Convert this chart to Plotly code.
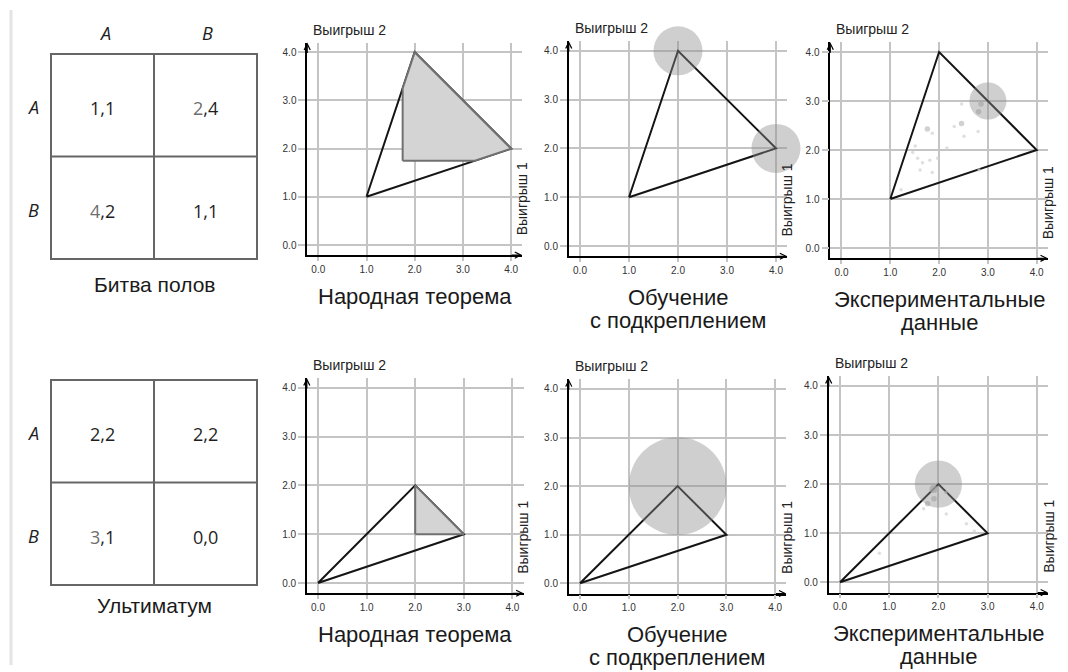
import plotly.graph_objects as go

W, H = 1068, 672

# ---------------- data ----------------
GAME_NAMES = ["Битва полов", "Ультиматум"]
STRATEGIES = ["A", "B"]
PAYOFFS_BOS = [["1,1", "2,4"], ["4,2", "1,1"]]
PAYOFFS_ULT = [["2,2", "2,2"], ["3,1", "0,0"]]

PANEL_TITLES = [["Народная теорема"], ["Обучение", "с подкреплением"], ["Экспериментальные", "данные"]]
AXIS_X_LABEL = "Выигрыш 1"
AXIS_Y_LABEL = "Выигрыш 2"
TICK_VALUES = [0, 1, 2, 3, 4]
TICK_TEXT = ["0.0", "1.0", "2.0", "3.0", "4.0"]

BOS_HULL_X = [1, 2, 4, 1]
BOS_HULL_Y = [1, 4, 2, 1]
BOS_FOLK_X = [1.75, 1.75, 2, 4, 3.25, 1.75]
BOS_FOLK_Y = [1.75, 3.25, 4, 2, 1.75, 1.75]

ULT_HULL_X = [0, 2, 3, 0]
ULT_HULL_Y = [0, 2, 1, 0]
ULT_FOLK_X = [2, 2, 3, 2]
ULT_FOLK_Y = [1, 2, 1, 1]

BOS_RL_X = [2, 4]
BOS_RL_Y = [4, 2]
BOS_RL_R = [0.5, 0.5]
ULT_RL_X = [2]
ULT_RL_Y = [2]
ULT_RL_R = [1.0]

BOS_EXP_CX = [3.0]
BOS_EXP_CY = [3.0]
BOS_EXP_R = [0.38]
BOS_EXP_X = [2.46, 2.86, 2.81, 1.76, 1.86, 2.46, 2.31, 2.51, 2.80, 2.16, 1.51, 1.46, 1.56, 1.66, 1.81, 1.97, 1.61, 1.86, 1.22, 2.82]
BOS_EXP_Y = [2.94, 2.94, 2.78, 2.43, 2.34, 2.54, 2.48, 2.28, 2.38, 2.04, 2.08, 1.95, 1.83, 1.74, 1.79, 1.83, 1.59, 1.54, 1.19, 1.59]
BOS_EXP_W = [1, 2, 2, 2, 1, 2, 1, 1, 1, 1, 1, 1, 1, 1, 1, 1, 1, 1, 1, 1]

ULT_EXP_CX = [2.0]
ULT_EXP_CY = [2.0]
ULT_EXP_R = [0.48]
ULT_EXP_X = [1.90, 2.15, 1.91, 1.78, 1.70, 2.16, 2.57, 2.73, 0.80]
ULT_EXP_Y = [1.90, 1.83, 1.70, 1.60, 1.50, 1.39, 1.19, 1.04, 0.59]
ULT_EXP_W = [3, 1, 2, 2, 1, 1, 1, 1, 1]

# ---------------- layout geometry (pixels) ----------------
XR = [-0.23, 4.23]
YR = [-0.21, 4.2]
# origin pixel of data (0,0) and pixels per unit
PANELS = [
    dict(ox=318.3, oy=245.0, sx=48.2, sy=48.2),
    dict(ox=580.0, oy=246.0, sx=49.0, sy=48.8),
    dict(ox=841.5, oy=248.0, sx=48.8, sy=49.0),
    dict(ox=318.0, oy=583.0, sx=48.6, sy=48.8),
    dict(ox=580.0, oy=583.3, sx=48.8, sy=48.6),
    dict(ox=840.0, oy=582.3, sx=49.2, sy=49.1),
]

def px(x):
    return x / W

def py(y):
    return 1 - y / H

GRID = "#c4c4c4"
TICKFONT = dict(family="Liberation Sans, Arial, sans-serif", size=10, color="#333333")
TEXTFONT = "Liberation Sans, Arial, sans-serif"

fig = go.Figure()
layout = dict(
    width=W, height=H,
    margin=dict(l=0, r=0, t=0, b=0),
    paper_bgcolor="white", plot_bgcolor="white",
    showlegend=False,
)
annotations = []
shapes = []


def text_at(x, y, text, font, **kw):
    d = dict(xref="paper", yref="paper", x=px(x), y=py(y), text=text, showarrow=False,
             xanchor="center", yanchor="middle", font=font)
    d.update(kw)
    annotations.append(d)


for i, p in enumerate(PANELS):
    left = p["ox"] + XR[0] * p["sx"]
    right = p["ox"] + XR[1] * p["sx"]
    top = p["oy"] - YR[1] * p["sy"]
    bottom = p["oy"] - YR[0] * p["sy"]
    n = "" if i == 0 else str(i + 1)
    common = dict(
        showgrid=True, gridcolor=GRID, gridwidth=1.5,
        zeroline=False, showline=True, linecolor="black", linewidth=1.5,
        ticks="outside", tickcolor=GRID, tickwidth=1.5,
        tickvals=TICK_VALUES, ticktext=TICK_TEXT, tickfont=TICKFONT,
        fixedrange=True,
    )
    layout["xaxis" + n] = dict(common, domain=[px(left), px(right)], range=XR,
                               anchor="y" + n, ticklen=4)
    layout["yaxis" + n] = dict(common, domain=[py(bottom), py(top)], range=YR,
                               anchor="x" + n, ticklen=7)
    # arrow heads
    annotations.append(dict(xref="paper", yref="paper", x=px(left), y=py(top),
                            ax=0, ay=12, text="", showarrow=True, arrowhead=5,
                            arrowsize=1, arrowwidth=1.2, arrowcolor="black"))
    annotations.append(dict(xref="paper", yref="paper", x=px(right), y=py(bottom),
                            ax=-12, ay=0, text="", showarrow=True, arrowhead=5,
                            arrowsize=1, arrowwidth=1.2, arrowcolor="black"))
    # axis labels
    lab_font = dict(family=TEXTFONT, size=14, color="#222222")
    text_at(left + 4, top - 13, AXIS_Y_LABEL, lab_font, xanchor="left")
    text_at(right, bottom - 56, AXIS_X_LABEL, lab_font, textangle=-90)
    # panel title
    title_font = dict(family=TEXTFONT, size=22, color="#1a1a1a")
    for j, line in enumerate(PANEL_TITLES[i % 3]):
        text_at((left + right) / 2, bottom + 41 + 23 * j, line, title_font)


def xy(i):
    n = "" if i == 0 else str(i + 1)
    return "x" + n, "y" + n


def hull(i, xs, ys):
    xa, ya = xy(i)
    fig.add_trace(go.Scatter(x=xs, y=ys, mode="lines", xaxis=xa, yaxis=ya,
                             line=dict(color="#151515", width=2), hoverinfo="skip"))


def folk(i, xs, ys):
    xa, ya = xy(i)
    fig.add_trace(go.Scatter(x=xs, y=ys, mode="lines", fill="toself", xaxis=xa, yaxis=ya,
                             fillcolor="#d4d4d4", line=dict(color="#707070", width=2),
                             hoverinfo="skip"))


def circles(i, cx, cy, rs):
    xa, ya = xy(i)
    s = PANELS[i]["sx"]
    fig.add_trace(go.Scatter(x=cx, y=cy, mode="markers", xaxis=xa, yaxis=ya, cliponaxis=False,
                             marker=dict(size=[2 * r * s for r in rs], color="rgba(140,140,140,0.6)",
                                         line=dict(width=0)), hoverinfo="skip"))


def points(i, xs, ys, ws):
    xa, ya = xy(i)
    size_map = {1: 3.5, 2: 5.5, 3: 8}
    col_map = {1: "#d2d2d2", 2: "#bdbdbd", 3: "#b3b3b3"}
    fig.add_trace(go.Scatter(x=xs, y=ys, mode="markers", xaxis=xa, yaxis=ya,
                             marker=dict(size=[size_map[w] for w in ws],
                                         color=[col_map[w] for w in ws], line=dict(width=0)),
                             hoverinfo="skip"))


# top row: battle of the sexes
hull(0, BOS_HULL_X, BOS_HULL_Y)
folk(0, BOS_FOLK_X, BOS_FOLK_Y)
hull(1, BOS_HULL_X, BOS_HULL_Y)
circles(1, BOS_RL_X, BOS_RL_Y, BOS_RL_R)
hull(2, BOS_HULL_X, BOS_HULL_Y)
points(2, BOS_EXP_X, BOS_EXP_Y, BOS_EXP_W)
circles(2, BOS_EXP_CX, BOS_EXP_CY, BOS_EXP_R)
# bottom row: ultimatum
hull(3, ULT_HULL_X, ULT_HULL_Y)
folk(3, ULT_FOLK_X, ULT_FOLK_Y)
hull(4, ULT_HULL_X, ULT_HULL_Y)
circles(4, ULT_RL_X, ULT_RL_Y, ULT_RL_R)
hull(5, ULT_HULL_X, ULT_HULL_Y)
points(5, ULT_EXP_X, ULT_EXP_Y, ULT_EXP_W)
circles(5, ULT_EXP_CX, ULT_EXP_CY, ULT_EXP_R)

# ---------------- payoff tables ----------------
TABLE_LINE = "#666666"
CELLFONT = dict(family="Open Sans, Noto Sans, sans-serif", size=18, color="#1e1e1e")
HEADFONT = dict(family="Open Sans, Noto Sans, sans-serif", size=18, color="#1e1e1e")
GRAY_FIRST = [{(0, 1), (1, 0)}, {(1, 0)}]

tables = [
    dict(l=51, r=257, t=54, b=259, payoffs=PAYOFFS_BOS, headers=True, cap_y=285),
    dict(l=51, r=257, t=380, b=585, payoffs=PAYOFFS_ULT, headers=False, cap_y=605),
]
for k, tb in enumerate(tables):
    l, r, t, b = tb["l"], tb["r"], tb["t"], tb["b"]
    mx, my = (l + r) / 2, (t + b) / 2
    line = dict(color=TABLE_LINE, width=2)
    shapes.append(dict(type="rect", xref="paper", yref="paper", x0=px(l), x1=px(r),
                       y0=py(b), y1=py(t), line=line))
    shapes.append(dict(type="line", xref="paper", yref="paper", x0=px(mx), x1=px(mx),
                       y0=py(b), y1=py(t), line=line))
    shapes.append(dict(type="line", xref="paper", yref="paper", x0=px(l), x1=px(r),
                       y0=py(my), y1=py(my), line=line))
    cxs = [(l + mx) / 2, (mx + r) / 2]
    cys = [(t + my) / 2 + 3, (my + b) / 2 + 3]
    for ri in range(2):
        for ci in range(2):
            txt = tb["payoffs"][ri][ci]
            a, bb = txt.split(",")
            if (ri, ci) in GRAY_FIRST[k]:
                txt = '<span style="color:#6e6e6e">' + a + '</span>,' + bb
            text_at(cxs[ci], cys[ri], txt, CELLFONT)
        text_at(33, cys[ri] - 1, "<i>" + STRATEGIES[ri] + "</i>", HEADFONT)
    if tb["headers"]:
        for ci in range(2):
            text_at(cxs[ci] + 2, t - 21, "<i>" + STRATEGIES[ci] + "</i>", HEADFONT)
    text_at(mx, tb["cap_y"], GAME_NAMES[k], dict(family=TEXTFONT, size=21, color="#1a1a1a"))

# faint left border
shapes.append(dict(type="line", xref="paper", yref="paper", x0=px(11), x1=px(11),
                   y0=py(665), y1=py(10), line=dict(color="#e4e4e4", width=3)))

layout["annotations"] = annotations
layout["shapes"] = shapes
fig.update_layout(**layout)
fig.write_html("out.html", config={"displayModeBar": False},
               post_script="document.body.style.margin='0';document.body.style.padding='0';document.body.style.overflow='hidden';")
